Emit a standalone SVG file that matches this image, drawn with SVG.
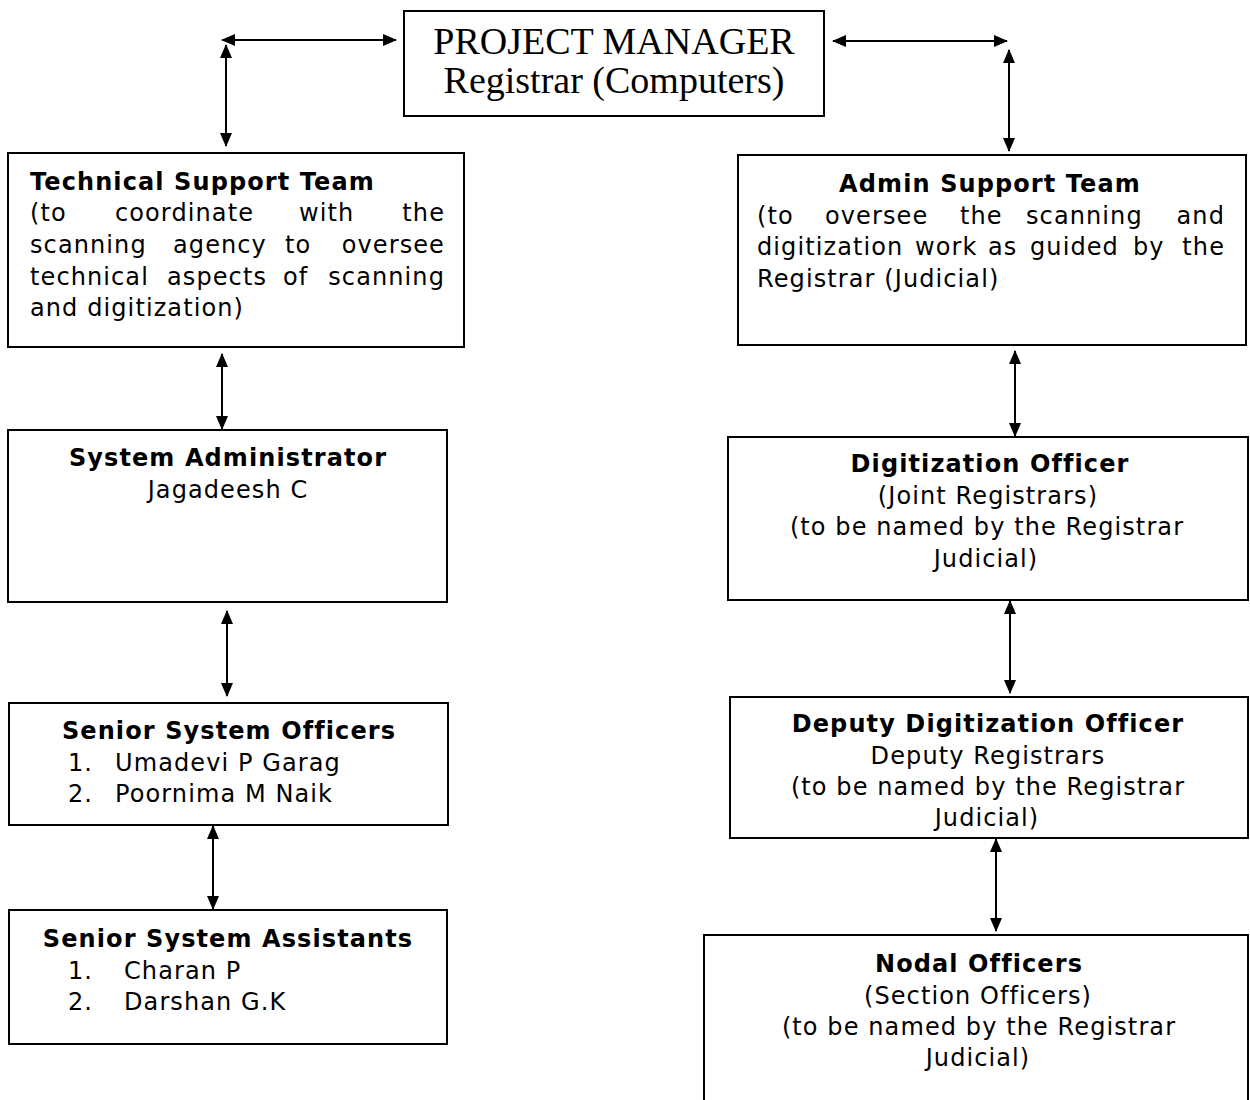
<svg xmlns="http://www.w3.org/2000/svg" width="1250" height="1100" viewBox="0 0 1250 1100">
<defs>
<marker id="ah" viewBox="0 0 14 12" refX="13" refY="6" markerWidth="14" markerHeight="12" markerUnits="userSpaceOnUse" orient="auto-start-reverse">
<path d="M0,0 L14,6 L0,12 Z" fill="#000"/>
</marker>
<style>
.box{fill:#fff;stroke:#000;stroke-width:2}
.t{font-family:"DejaVu Sans",Verdana,sans-serif;font-size:24px;letter-spacing:1.1px;fill:#000}
.b{font-weight:bold}
.c{text-anchor:middle}
.pm{font-family:"Liberation Serif","Times New Roman",serif;font-size:38px;fill:#000;text-anchor:middle}
.conn{stroke:#000;stroke-width:2;fill:none;marker-start:url(#ah);marker-end:url(#ah)}
</style>
</defs>
<rect width="1250" height="1100" fill="#fff"/>
<g id="connectors">
<line class="conn" x1="222" y1="40" x2="396" y2="40"/>
<line class="conn" x1="226" y1="45" x2="226" y2="146"/>
<line class="conn" x1="833" y1="41" x2="1007" y2="41"/>
<line class="conn" x1="1009" y1="50" x2="1009" y2="151"/>
<line class="conn" x1="222" y1="354" x2="222" y2="429"/>
<line class="conn" x1="227" y1="611" x2="227" y2="696"/>
<line class="conn" x1="213" y1="826" x2="213" y2="909"/>
<line class="conn" x1="1015" y1="351" x2="1015" y2="436"/>
<line class="conn" x1="1010" y1="601" x2="1010" y2="693"/>
<line class="conn" x1="996" y1="839" x2="996" y2="931"/>
</g>
<g id="pm">
<rect class="box" x="404" y="11" width="420" height="105"/>
<text class="pm" x="614" y="54">PROJECT MANAGER</text>
<text class="pm" x="614" y="93">Registrar (Computers)</text>
</g>
<g id="tech">
<rect class="box" x="8" y="153" width="456" height="194"/>
<text class="t b" x="30" y="190">Technical Support Team</text>
<text class="t" y="221"><tspan x="30">(to</tspan><tspan x="115">coordinate</tspan><tspan x="299">with</tspan><tspan x="445" text-anchor="end">the</tspan></text>
<text class="t" y="253"><tspan x="30">scanning</tspan><tspan x="173">agency</tspan><tspan x="285">to</tspan><tspan x="445" text-anchor="end">oversee</tspan></text>
<text class="t" y="285"><tspan x="30">technical</tspan><tspan x="167">aspects</tspan><tspan x="283">of</tspan><tspan x="445" text-anchor="end">scanning</tspan></text>
<text class="t" x="30" y="316">and digitization)</text>
</g>
<g id="admin">
<rect class="box" x="738" y="155" width="508" height="190"/>
<text class="t b c" x="990" y="192">Admin Support Team</text>
<text class="t" y="224"><tspan x="757">(to</tspan><tspan x="825">oversee</tspan><tspan x="960">the</tspan><tspan x="1026">scanning</tspan><tspan x="1225" text-anchor="end">and</tspan></text>
<text class="t" y="255"><tspan x="757">digitization</tspan><tspan x="915">work</tspan><tspan x="988">as</tspan><tspan x="1030">guided</tspan><tspan x="1133">by</tspan><tspan x="1225" text-anchor="end">the</tspan></text>
<text class="t" x="757" y="287">Registrar (Judicial)</text>
</g>
<g id="sysadmin">
<rect class="box" x="8" y="430" width="439" height="172"/>
<text class="t b c" x="228" y="466">System Administrator</text>
<text class="t c" x="228" y="498">Jagadeesh C</text>
</g>
<g id="sso">
<rect class="box" x="9" y="703" width="439" height="122"/>
<text class="t b c" x="229" y="739">Senior System Officers</text>
<text class="t" y="771"><tspan x="68">1.</tspan><tspan x="115">Umadevi P Garag</tspan></text>
<text class="t" y="802"><tspan x="68">2.</tspan><tspan x="115">Poornima M Naik</tspan></text>
</g>
<g id="ssa">
<rect class="box" x="9" y="910" width="438" height="134"/>
<text class="t b c" x="228" y="947">Senior System Assistants</text>
<text class="t" y="979"><tspan x="68">1.</tspan><tspan x="124">Charan P</tspan></text>
<text class="t" y="1010"><tspan x="68">2.</tspan><tspan x="124">Darshan G.K</tspan></text>
</g>
<g id="digit">
<rect class="box" x="728" y="437" width="520" height="163"/>
<text class="t b c" x="990" y="472">Digitization Officer</text>
<text class="t c" x="988" y="504">(Joint Registrars)</text>
<text class="t c" x="987" y="535">(to be named by the Registrar</text>
<text class="t c" x="986" y="567">Judicial)</text>
</g>
<g id="deputy">
<rect class="box" x="730" y="697" width="518" height="141"/>
<text class="t b c" x="988" y="732">Deputy Digitization Officer</text>
<text class="t c" x="988" y="764">Deputy Registrars</text>
<text class="t c" x="988" y="795">(to be named by the Registrar</text>
<text class="t c" x="987" y="826">Judicial)</text>
</g>
<g id="nodal">
<path class="box" d="M704,1102 L704,935 L1248,935 L1248,1102"/>
<text class="t b c" x="979" y="972">Nodal Officers</text>
<text class="t c" x="978" y="1004">(Section Officers)</text>
<text class="t c" x="979" y="1035">(to be named by the Registrar</text>
<text class="t c" x="978" y="1066">Judicial)</text>
</g>
</svg>
